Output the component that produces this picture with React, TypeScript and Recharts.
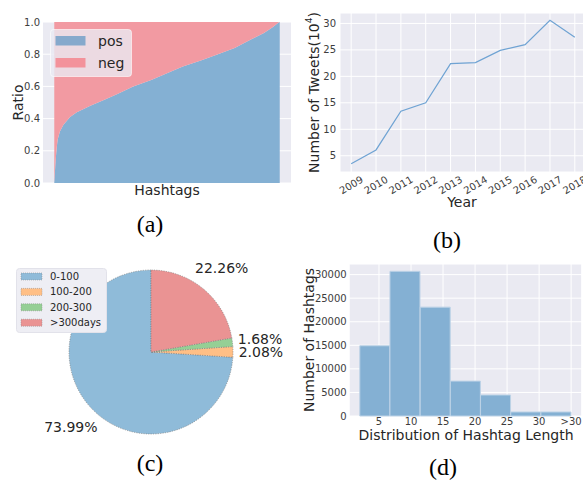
import React from "react";
import {
  AreaChart,
  Area,
  LineChart,
  Line,
  BarChart,
  Bar,
  PieChart,
  Pie,
  Cell,
  XAxis,
  YAxis,
  CartesianGrid,
  Legend,
} from "recharts";

// (a) ratio of positive / negative tweets per hashtag, hashtags sorted
const hashtagRank = [0, 0.5, 1, 1.5, 2.5, 4, 7, 10, 16, 22, 28, 35, 43, 50, 57, 65, 72, 80, 87, 93, 97, 99.5, 100];
const posRatio = [0, 0.12, 0.21, 0.27, 0.32, 0.36, 0.41, 0.44, 0.48, 0.516, 0.553, 0.599, 0.64, 0.682, 0.723, 0.761, 0.796, 0.838, 0.89, 0.931, 0.969, 0.997, 1.0];

// (b) tweets per year (x10^4)
const years = [2009, 2010, 2011, 2012, 2013, 2014, 2015, 2016, 2017, 2018];
const tweets = [3.5, 6.1, 13.4, 15.0, 22.4, 22.6, 24.9, 26.0, 30.6, 27.4];

// (c) hashtag lifetime
const periodNames = ["0-100", "100-200", "200-300", ">300days"];
const periodShare = [73.99, 2.08, 1.68, 22.26];

// (d) hashtag length histogram
const lengthBinCenter = [4.36, 9.07, 13.79, 18.5, 23.21, 27.93, 32.64];
const lengthCount = [14900, 30700, 23100, 7400, 4450, 850, 850];
const lengthTicks = [5, 10, 15, 20, 25, 30, 35];
const lengthTickLabels = ["5", "10", "15", "20", "25", "30", ">30"];

const ratioData = hashtagRank.map((rank, i) => ({ rank, pos: posRatio[i], neg: 1 - posRatio[i] }));
const tweetData = years.map((year, i) => ({ year, tweets: tweets[i] }));
const pieData = periodNames.map((name, i) => ({ name, share: periodShare[i] }));
const lengthData = lengthBinCenter.map((center, i) => ({ center, count: lengthCount[i] }));

const BG = "#eaeaf2";
const TICK = "#3d3d3d";
const LABEL = "#262626";
const FONT = "DejaVu Sans";
const pieColors = ["#8fbbd9", "#ffbf86", "#95cf95", "#ea9393"];
const tickStyle = { fontSize: 10, fill: TICK, fontFamily: FONT };

const RatioLegend = () => (
  <svg width={82} height={48}>
    <rect x={0.5} y={0.5} width={81} height={47} rx={3} fill="rgba(234,234,242,0.8)" stroke="rgba(255,255,255,0.6)" />
    <rect x={5.5} y={7} width={30} height={9.5} fill="#86a9cc" />
    <rect x={5.5} y={29} width={30} height={9.5} fill="#f3929b" />
    <text x={48} y={12} fontSize={14} fill={LABEL} fontFamily={FONT} dominantBaseline="central">pos</text>
    <text x={48} y={34} fontSize={14} fill={LABEL} fontFamily={FONT} dominantBaseline="central">neg</text>
  </svg>
);

const PeriodLegend = () => (
  <svg width={92} height={66}>
    <rect x={0.5} y={0.5} width={90} height={64} rx={3} fill="#eeeef4" stroke="#e2e2ea" />
    {periodNames.map((name, i) => (
      <g key={name}>
        <rect x={5} y={5 + i * 15.4} width={21} height={7} fill={pieColors[i]} stroke="#888" strokeWidth={0.5} strokeDasharray="1 1" />
        <text x={34} y={8.5 + i * 15.4} fontSize={10} fill={LABEL} fontFamily={FONT} dominantBaseline="central">{name}</text>
      </g>
    ))}
  </svg>
);

const YearTick = ({ x, y, payload }: any) => (
  <text x={x} y={y} transform={`rotate(-30, ${x}, ${y})`} textAnchor="middle" dominantBaseline="central" fontSize={10} fill={TICK} fontFamily={FONT}>
    {payload.value}
  </text>
);

const RADIAN = Math.PI / 180;
const renderPct = ({ cx, cy, midAngle, outerRadius, value }: any) => {
  const r = outerRadius * 1.34;
  const x = cx + r * Math.cos(-midAngle * RADIAN);
  const y = cy + r * Math.sin(-midAngle * RADIAN);
  return (
    <text x={x} y={y} textAnchor="middle" dominantBaseline="central" fontSize={14} fill={LABEL} fontFamily={FONT}>
      {`${value.toFixed(2)}%`}
    </text>
  );
};

const App = () => {
  return (
    <div style={{ position: "absolute", left: 0, top: 0, width: 583, height: 484, overflow: "hidden", background: "#fff", fontFamily: FONT }}>
      {/* (a) */}
      <div style={{ position: "absolute", left: 0, top: 0 }}>
        <AreaChart width={300} height={200} data={ratioData} margin={{ top: 22, right: 9, left: 0, bottom: 0 }}>
          <CartesianGrid vertical={false} stroke="#fff" fill={BG} fillOpacity={1} />
          <XAxis type="number" dataKey="rank" domain={[-5, 105]} tick={false} axisLine={false} tickLine={false} height={17} />
          <YAxis
            domain={[0, 1]}
            ticks={[0, 0.2, 0.4, 0.6, 0.8, 1]}
            tickFormatter={(v) => Number(v).toFixed(1)}
            width={43}
            axisLine={false}
            tickLine={false}
            tickSize={0}
            tickMargin={3}
            tick={tickStyle}
          />
          <Area type="linear" dataKey="pos" stackId="r" fill="#84b0d3" fillOpacity={1} stroke="none" isAnimationActive={false} />
          <Area type="linear" dataKey="neg" stackId="r" fill="#f29aa2" fillOpacity={1} stroke="none" isAnimationActive={false} />
          <Legend layout="vertical" align="center" verticalAlign="middle" content={<RatioLegend />} wrapperStyle={{ left: 50, top: 29, width: 82, height: 48 }} />
        </AreaChart>
      </div>

      {/* (b) */}
      <div style={{ position: "absolute", left: 290, top: 0 }}>
        <LineChart width={296} height={215} data={tweetData} margin={{ top: 13, right: 0, left: 0, bottom: 0 }}>
          <CartesianGrid stroke="#fff" fill={BG} fillOpacity={1} />
          <XAxis
            type="number"
            dataKey="year"
            domain={[2008.55, 2018.45]}
            ticks={years}
            interval={0}
            allowDataOverflow
            tick={<YearTick />}
            axisLine={false}
            tickLine={false}
            tickSize={0}
            tickMargin={13}
            height={43}
          />
          <YAxis
            domain={[1.93, 31.97]}
            ticks={[5, 10, 15, 20, 25, 30]}
            allowDataOverflow
            width={50}
            axisLine={false}
            tickLine={false}
            tickSize={0}
            tickMargin={4}
            tick={tickStyle}
          />
          <Line type="linear" dataKey="tweets" stroke="#6fa3d3" strokeWidth={1.2} dot={false} isAnimationActive={false} />
        </LineChart>
      </div>

      {/* (c) */}
      <div style={{ position: "absolute", left: 0, top: 240 }}>
        <PieChart width={290} height={244} margin={{ top: 0, right: 0, bottom: 0, left: 0 }}>
          <Pie
            data={pieData}
            dataKey="share"
            nameKey="name"
            cx={151}
            cy={112}
            outerRadius={82}
            startAngle={90}
            endAngle={450}
            label={renderPct}
            labelLine={false}
            isAnimationActive={false}
          >
            {pieData.map((d, i) => (
              <Cell key={d.name} fill={pieColors[i]} stroke="#777" strokeWidth={0.6} strokeDasharray="1.2 1.2" />
            ))}
          </Pie>
          <Legend layout="vertical" align="center" verticalAlign="middle" content={<PeriodLegend />} wrapperStyle={{ left: 16, top: 27.5, width: 92, height: 66 }} />
        </PieChart>
      </div>

      {/* (d) */}
      <div style={{ position: "absolute", left: 290, top: 240 }}>
        <BarChart width={293} height={244} data={lengthData} margin={{ top: 24, right: 1.3, left: 0, bottom: 0 }} barCategoryGap={0} barGap={0}>
          <CartesianGrid stroke="#fff" fill={BG} fillOpacity={1} />
          <XAxis
            type="number"
            dataKey="center"
            domain={[0.35, 36.65]}
            ticks={lengthTicks}
            interval={0}
            tickFormatter={(v) => lengthTickLabels[lengthTicks.indexOf(v)]}
            axisLine={false}
            tickLine={false}
            tickSize={0}
            tickMargin={2}
            height={68}
            tick={tickStyle}
          />
          <YAxis
            domain={[0, 32250]}
            ticks={[0, 5000, 10000, 15000, 20000, 25000, 30000]}
            width={59.2}
            axisLine={false}
            tickLine={false}
            tickSize={0}
            tickMargin={2.5}
            tick={tickStyle}
          />
          <Bar dataKey="count" fill="#84b0d3" stroke="#bcd2e6" strokeWidth={1} isAnimationActive={false} />
        </BarChart>
      </div>

      {/* axis titles and captions */}
      <svg width={583} height={484} style={{ position: "absolute", left: 0, top: 0, pointerEvents: "none" }}>
        <g fontFamily={FONT} fontSize={14} fill={LABEL} textAnchor="middle" dominantBaseline="central">
          <text x={17.5} y={102.5} transform="rotate(-90, 17.5, 102.5)">Ratio</text>
          <text x={167} y={190}>Hashtags</text>
          <text x={314} y={92.5} transform="rotate(-90, 314, 92.5)">
            Number of Tweets(10<tspan fontSize={9} dy={-5}>4</tspan>
            <tspan dy={5}>)</tspan>
          </text>
          <text x={462} y={202}>Year</text>
          <text x={309} y={340} transform="rotate(-90, 309, 340)">Number of Hashtags</text>
          <text x={466} y={435}>Distribution of Hashtag Length</text>
        </g>
        <g fontFamily="Liberation Serif" fontSize={24} fill="#000" textAnchor="middle">
          <text x={150} y={231.5}>(a)</text>
          <text x={447} y={247.5}>(b)</text>
          <text x={150} y={471}>(c)</text>
          <text x={443} y={474.5}>(d)</text>
        </g>
      </svg>
    </div>
  );
};

export default App;
